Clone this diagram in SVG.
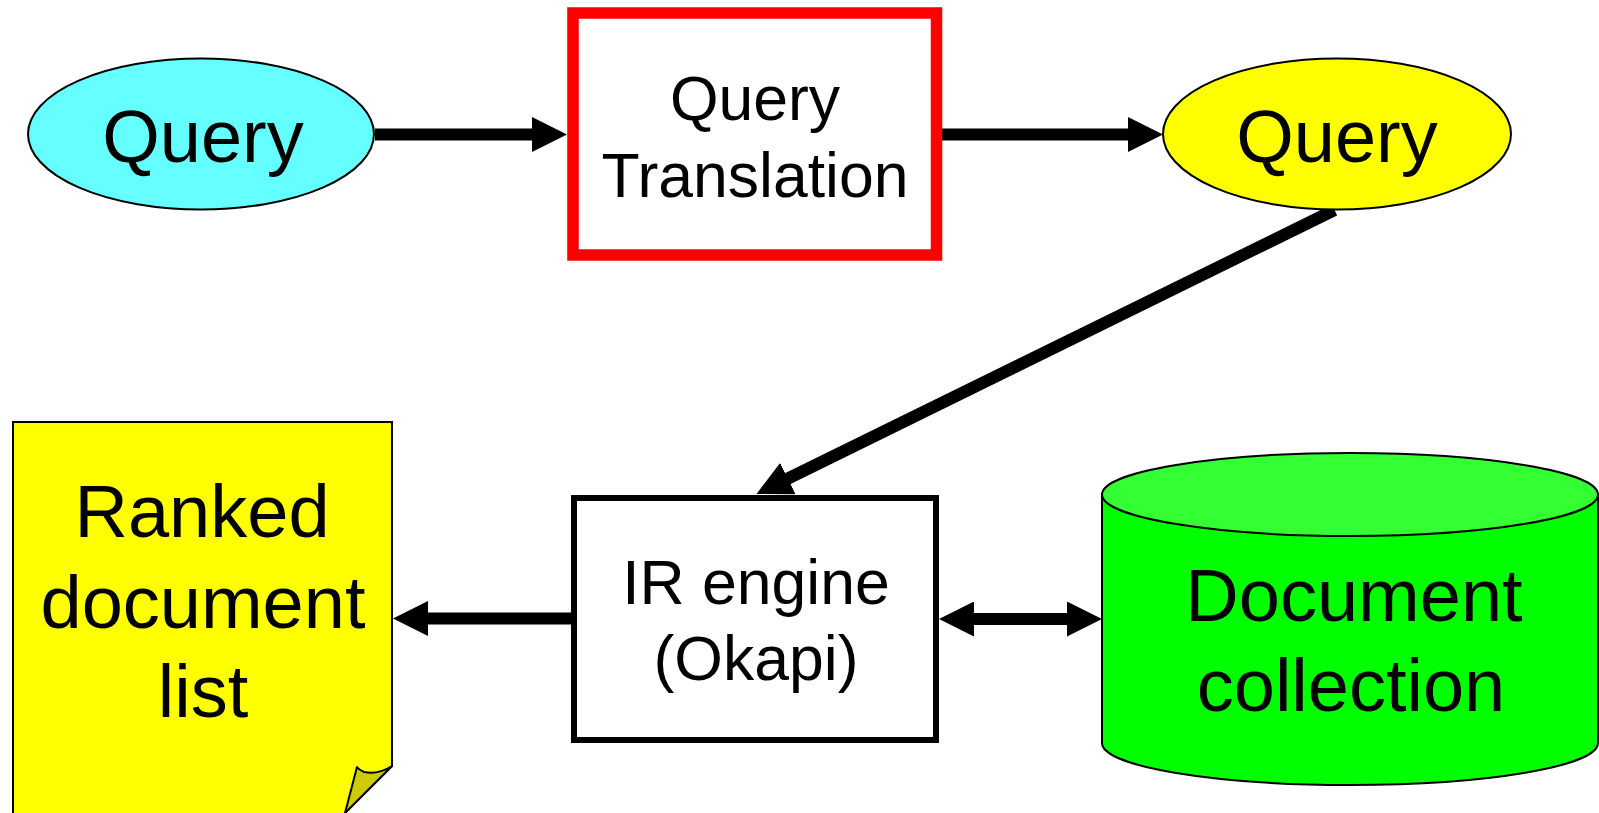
<svg xmlns="http://www.w3.org/2000/svg" width="1599" height="813" viewBox="0 0 1599 813">
  <style>
    .lbl { font-family: "Liberation Sans", Arial, sans-serif; fill: #000; text-anchor: middle; }
    .conn { stroke: #000; stroke-width: 12; fill: none; }
    .thin { stroke: #000; stroke-width: 2; }
  </style>
  <defs>
    <marker id="head" viewBox="0 -17.5 35 35" refX="1" refY="0" markerWidth="35" markerHeight="35" markerUnits="userSpaceOnUse" orient="auto-start-reverse">
      <path d="M0,-17.5 L35,0 L0,17.5 Z" fill="#000"/>
    </marker>
  </defs>
  <rect width="1599" height="813" fill="#fff"/>

  <!-- connectors -->
  <g id="connectors">
    <line class="conn" x1="375" y1="134.5" x2="533" y2="134.5" marker-end="url(#head)"/>
    <line class="conn" x1="942" y1="134.5" x2="1129" y2="134.5" marker-end="url(#head)"/>
    <line class="conn" x1="1334.5" y1="210" x2="787" y2="479" marker-end="url(#head)"/>
    <line class="conn" x1="571" y1="618.5" x2="427" y2="618.5" marker-end="url(#head)"/>
    <line class="conn" x1="973" y1="619" x2="1068" y2="619" marker-start="url(#head)" marker-end="url(#head)"/>
  </g>

  <!-- source query -->
  <g id="query-in">
    <ellipse cx="201" cy="134" rx="173" ry="75.5" fill="#66FFFF" class="thin"/>
    <text class="lbl" x="203" y="162" font-size="74">Query</text>
  </g>

  <!-- translation step -->
  <g id="query-translation">
    <rect x="573" y="13" width="363.5" height="242" fill="#fff" stroke="#FF0000" stroke-width="11.5"/>
    <text class="lbl" x="755" y="120" font-size="62.5">Query</text>
    <text class="lbl" x="755" y="197" font-size="62.5">Translation</text>
  </g>

  <!-- translated query -->
  <g id="query-out">
    <ellipse cx="1337" cy="134" rx="174" ry="75.5" fill="#FFFF00" class="thin"/>
    <text class="lbl" x="1337" y="162" font-size="74">Query</text>
  </g>

  <!-- retrieval engine -->
  <g id="ir-engine">
    <rect x="574" y="498" width="362" height="242" fill="#fff" stroke="#000" stroke-width="6"/>
    <text class="lbl" x="756" y="604" font-size="62.5">IR engine</text>
    <text class="lbl" x="756" y="680" font-size="62.5">(Okapi)</text>
  </g>

  <!-- result page with curled corner -->
  <g id="ranked-list">
    <path d="M13,422 L392,422 L392,766 L345,813 L345,830 L13,830 Z" fill="#FFFF00" class="thin"/>
    <path d="M392,766 Q378,775 364,772 Q359,770 357,767 L345,813 Z" fill="#CCCC00" class="thin" stroke-linejoin="round"/>
    <text class="lbl" x="202" y="537" font-size="74">Ranked</text>
    <text class="lbl" x="203" y="628" font-size="74">document</text>
    <text class="lbl" x="203" y="717" font-size="74">list</text>
  </g>

  <!-- document store -->
  <g id="doc-collection">
    <path d="M1102,494.5 L1102,743 A248,42 0 0 0 1598,743 L1598,494.5 Z" fill="#00FF00" class="thin"/>
    <ellipse cx="1350" cy="494.5" rx="248" ry="41.5" fill="#33FF33" class="thin"/>
    <text class="lbl" x="1354" y="621" font-size="74">Document</text>
    <text class="lbl" x="1351" y="711" font-size="74">collection</text>
  </g>
</svg>
